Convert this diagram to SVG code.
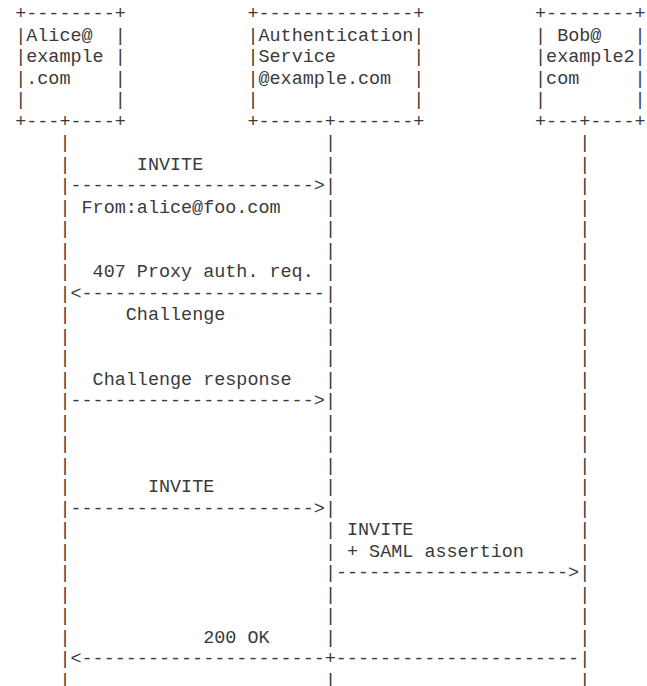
<svg xmlns="http://www.w3.org/2000/svg" width="647" height="686" viewBox="0 0 647 686">
<style>
text{font-family:"Liberation Mono","DejaVu Sans Mono",monospace;font-size:18.43px;fill:#3a3a3a;white-space:pre}
</style>
<rect width="647" height="686" fill="#fff"/>
<g id="node-alice">
<text x="15.2" y="19" xml:space="preserve">+--------+</text>
<text x="15.2" y="40.5" xml:space="preserve">|Alice@  |</text>
<text x="15.2" y="62" xml:space="preserve">|example |</text>
<text x="15.2" y="83.5" xml:space="preserve">|.com    |</text>
<text x="15.2" y="105" xml:space="preserve">|        |</text>
<text x="15.2" y="126.5" xml:space="preserve">+---+----+</text>
</g>
<g id="node-auth">
<text x="247.46" y="19" xml:space="preserve">+--------------+</text>
<text x="247.46" y="40.5" xml:space="preserve">|Authentication|</text>
<text x="247.46" y="62" xml:space="preserve">|Service       |</text>
<text x="247.46" y="83.5" xml:space="preserve">|@example.com  |</text>
<text x="247.46" y="105" xml:space="preserve">|              |</text>
<text x="247.46" y="126.5" xml:space="preserve">+------+-------+</text>
</g>
<g id="node-bob">
<text x="535.02" y="19" xml:space="preserve">+--------+</text>
<text x="535.02" y="40.5" xml:space="preserve">| Bob@   |</text>
<text x="535.02" y="62" xml:space="preserve">|example2|</text>
<text x="535.02" y="83.5" xml:space="preserve">|com     |</text>
<text x="535.02" y="105" xml:space="preserve">|        |</text>
<text x="535.02" y="126.5" xml:space="preserve">+---+----+</text>
</g>
<g id="connectors">
<text id="lifeline-alice"><tspan x="59.44" y="148">|</tspan><tspan x="59.44" y="169.5">|</tspan><tspan x="59.44" y="191">|</tspan><tspan x="59.44" y="212.5">|</tspan><tspan x="59.44" y="234">|</tspan><tspan x="59.44" y="255.5">|</tspan><tspan x="59.44" y="277">|</tspan><tspan x="59.44" y="298.5">|</tspan><tspan x="59.44" y="320">|</tspan><tspan x="59.44" y="341.5">|</tspan><tspan x="59.44" y="363">|</tspan><tspan x="59.44" y="384.5">|</tspan><tspan x="59.44" y="406">|</tspan><tspan x="59.44" y="427.5">|</tspan><tspan x="59.44" y="449">|</tspan><tspan x="59.44" y="470.5">|</tspan><tspan x="59.44" y="492">|</tspan><tspan x="59.44" y="513.5">|</tspan><tspan x="59.44" y="535">|</tspan><tspan x="59.44" y="556.5">|</tspan><tspan x="59.44" y="578">|</tspan><tspan x="59.44" y="599.5">|</tspan><tspan x="59.44" y="621">|</tspan><tspan x="59.44" y="642.5">|</tspan><tspan x="59.44" y="664">|</tspan><tspan x="59.44" y="685.5">|</tspan></text>
<text id="lifeline-auth"><tspan x="324.88" y="148">|</tspan><tspan x="324.88" y="169.5">|</tspan><tspan x="324.88" y="191">|</tspan><tspan x="324.88" y="212.5">|</tspan><tspan x="324.88" y="234">|</tspan><tspan x="324.88" y="255.5">|</tspan><tspan x="324.88" y="277">|</tspan><tspan x="324.88" y="298.5">|</tspan><tspan x="324.88" y="320">|</tspan><tspan x="324.88" y="341.5">|</tspan><tspan x="324.88" y="363">|</tspan><tspan x="324.88" y="384.5">|</tspan><tspan x="324.88" y="406">|</tspan><tspan x="324.88" y="427.5">|</tspan><tspan x="324.88" y="449">|</tspan><tspan x="324.88" y="470.5">|</tspan><tspan x="324.88" y="492">|</tspan><tspan x="324.88" y="513.5">|</tspan><tspan x="324.88" y="535">|</tspan><tspan x="324.88" y="556.5">|</tspan><tspan x="324.88" y="578">|</tspan><tspan x="324.88" y="599.5">|</tspan><tspan x="324.88" y="621">|</tspan><tspan x="324.88" y="642.5">|</tspan><tspan x="324.88" y="685.5">|</tspan></text>
<text id="lifeline-bob"><tspan x="579.26" y="148">|</tspan><tspan x="579.26" y="169.5">|</tspan><tspan x="579.26" y="191">|</tspan><tspan x="579.26" y="212.5">|</tspan><tspan x="579.26" y="234">|</tspan><tspan x="579.26" y="255.5">|</tspan><tspan x="579.26" y="277">|</tspan><tspan x="579.26" y="298.5">|</tspan><tspan x="579.26" y="320">|</tspan><tspan x="579.26" y="341.5">|</tspan><tspan x="579.26" y="363">|</tspan><tspan x="579.26" y="384.5">|</tspan><tspan x="579.26" y="406">|</tspan><tspan x="579.26" y="427.5">|</tspan><tspan x="579.26" y="449">|</tspan><tspan x="579.26" y="470.5">|</tspan><tspan x="579.26" y="492">|</tspan><tspan x="579.26" y="513.5">|</tspan><tspan x="579.26" y="535">|</tspan><tspan x="579.26" y="556.5">|</tspan><tspan x="579.26" y="578">|</tspan><tspan x="579.26" y="599.5">|</tspan><tspan x="579.26" y="621">|</tspan><tspan x="579.26" y="642.5">|</tspan><tspan x="579.26" y="664">|</tspan><tspan x="579.26" y="685.5">|</tspan></text>
<text x="70.5" y="191">----------------------&gt;</text>
<text x="70.5" y="298.5">&lt;----------------------</text>
<text x="70.5" y="406">----------------------&gt;</text>
<text x="70.5" y="513.5">----------------------&gt;</text>
<text x="335.94" y="578">---------------------&gt;</text>
<text x="70.5" y="664">&lt;----------------------+----------------------</text>
</g>
<g id="labels">
<text x="136.86" y="169.5">INVITE</text>
<text x="81.56" y="212.5">From:alice@foo.com</text>
<text x="92.62" y="277">407 Proxy auth. req.</text>
<text x="125.8" y="320">Challenge</text>
<text x="92.62" y="384.5">Challenge response</text>
<text x="147.92" y="492">INVITE</text>
<text x="347" y="535">INVITE</text>
<text x="347" y="556.5" xml:space="preserve">+ SAML assertion</text>
<text x="203.22" y="642.5">200 OK</text>
</g>
</svg>
